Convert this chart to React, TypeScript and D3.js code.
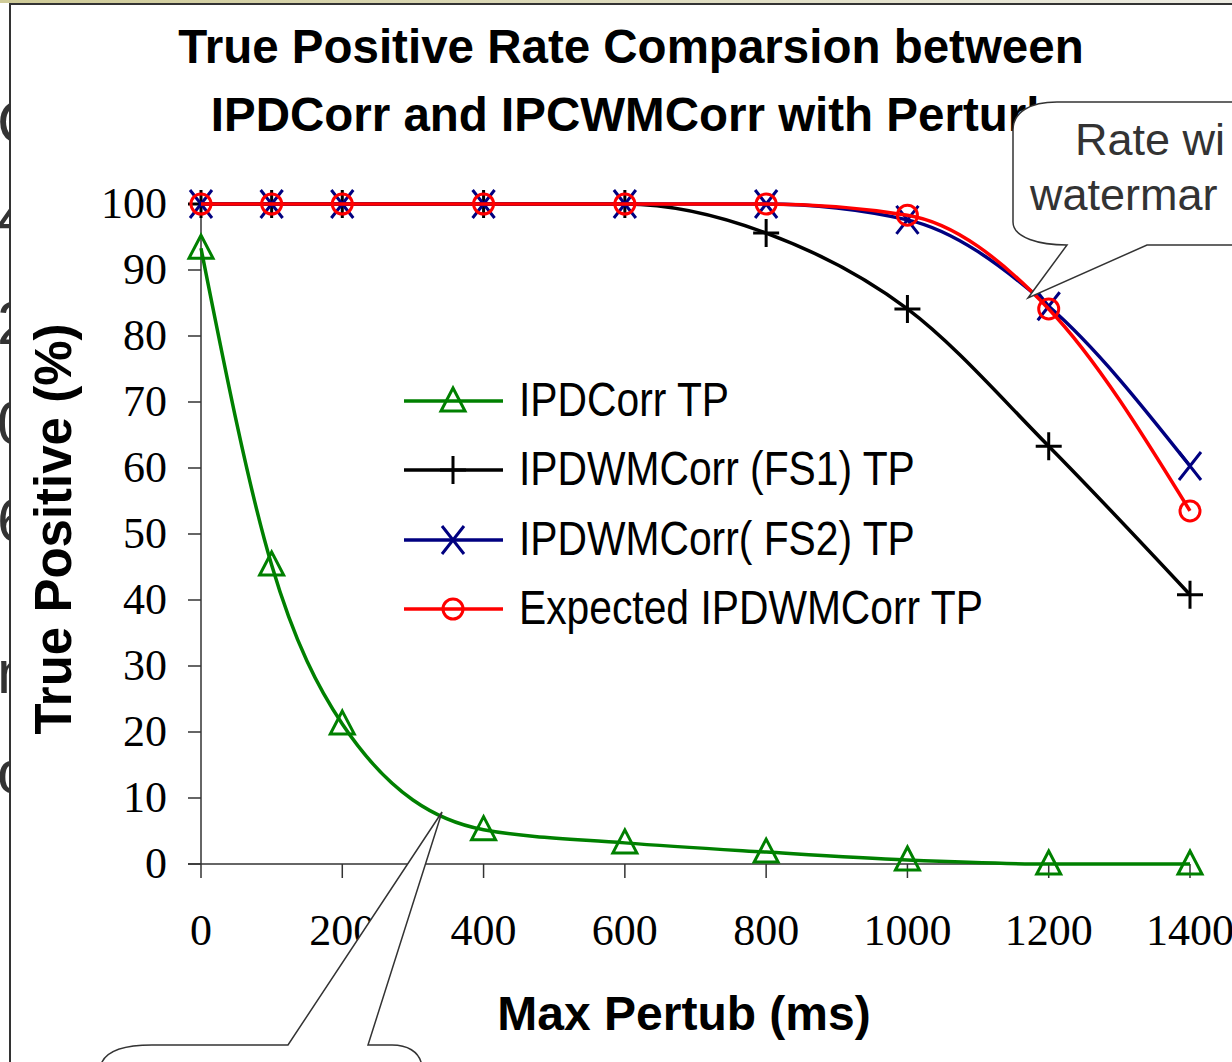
import React from "react";
import * as d3 from "d3";

const xValues = [0, 100, 200, 400, 600, 800, 1000, 1200, 1400];
const ipdCorrTP = [93.3, 45.3, 21.2, 5.2, 3.2, 1.8, 0.6, 0, 0];
const fs1TP = [100, 100, 100, 100, 100, 95.6, 84.1, 63.3, 40.8];
const fs2TP = [100, 100, 100, 100, 100, 100, 97.6, 84.5, 60.3];
const expectedTP = [100, 100, 100, 100, 100, 100, 98.3, 84.1, 53.5];

const xTicks = [0, 200, 400, 600, 800, 1000, 1200, 1400];
const yTicks = [0, 10, 20, 30, 40, 50, 60, 70, 80, 90, 100];

const seriesNames = ["IPDCorr TP", "IPDWMCorr (FS1) TP", "IPDWMCorr( FS2) TP", "Expected IPDWMCorr TP"];
const seriesColors = ["#008000", "#000000", "#000080", "#ff0000"];
const seriesMarkers = ["triangle", "plus", "cross", "circle"];
const seriesValues = [ipdCorrTP, fs1TP, fs2TP, expectedTP];

const titleLines = ["True Positive Rate Comparsion between", "IPDCorr and IPCWMCorr with Perturb"];
const bgGlyphs = [
  { ch: "C", y: 143 },
  { ch: "4", y: 238 },
  { ch: "2", y: 344 },
  { ch: "0", y: 444 },
  { ch: "6", y: 541 },
  { ch: "n", y: 693 },
  { ch: "o", y: 793 },
];

const W = 1232;
const H = 1062;

function Marker({ kind, color, x, y }: { kind: string; color: string; x: number; y: number }) {
  const sw = 3;
  if (kind === "triangle") {
    return <path d={`M${x},${y - 13}L${x + 12},${y + 10}L${x - 12},${y + 10}Z`} fill="none" stroke={color} strokeWidth={sw} strokeLinejoin="miter" />;
  }
  if (kind === "plus") {
    return <path d={`M${x - 13},${y}H${x + 13}M${x},${y - 14}V${y + 14}`} stroke={color} strokeWidth={sw} fill="none" />;
  }
  if (kind === "cross") {
    return <path d={`M${x - 11},${y - 14}L${x + 11},${y + 14}M${x + 11},${y - 14}L${x - 11},${y + 14}`} stroke={color} strokeWidth={sw} fill="none" />;
  }
  return <circle cx={x} cy={y} r={10} stroke={color} strokeWidth={sw} fill="none" />;
}

export default function App() {
  const x = d3.scaleLinear().domain([0, 1400]).range([201, 1190]);
  const y = d3.scaleLinear().domain([0, 100]).range([864, 204]);
  const line = d3
    .line<[number, number]>()
    .x((d) => x(d[0]))
    .y((d) => y(d[1]))
    .curve(d3.curveMonotoneX);

  const legendY = [401, 470, 540, 609];
  const sans = "'Liberation Sans', Arial, sans-serif";
  const serif = "'Liberation Serif', 'Times New Roman', serif";

  return (
    <svg width={W} height={H} style={{ position: "absolute", left: 0, top: 0, display: "block" }}>
      <defs>
        <linearGradient id="topstrip" x1="0" x2="1" y1="0" y2="0">
          <stop offset="0" stopColor="#cfcb98" />
          <stop offset="1" stopColor="#ecebe2" />
        </linearGradient>
      </defs>
      <rect x={0} y={0} width={W} height={H} fill="#ffffff" />
      {bgGlyphs.map((g, i) => (
        <text key={i} x={-3} y={g.y} fontFamily={sans} fontSize={62} fill="#333333">
          {g.ch}
        </text>
      ))}
      <rect x={10} y={4} width={W} height={H} fill="#ffffff" stroke="#333333" strokeWidth={2} />
      <rect x={0} y={0} width={W} height={3} fill="url(#topstrip)" />

      {/* Title */}
      <g fontFamily={sans} fontWeight="bold" fontSize={47.5} fill="#000" textAnchor="middle">
        <text x={631} y={63}>{titleLines[0]}</text>
        <text x={633} y={131}>{titleLines[1]}</text>
      </g>

      {/* Axes */}
      <g stroke="#333" strokeWidth={1.5} fill="none">
        <line x1={x(0)} x2={x(0)} y1={y(100)} y2={y(0)} />
        <line x1={188} x2={x(1400)} y1={y(0)} y2={y(0)} />
        {yTicks.map((t) => (
          <line key={"yt" + t} x1={188} x2={x(0)} y1={y(t)} y2={y(t)} />
        ))}
        {xTicks.map((t) => (
          <line key={"xt" + t} x1={x(t)} x2={x(t)} y1={y(0)} y2={y(0) + 14} />
        ))}
      </g>
      <g fontFamily={serif} fontSize={44} fill="#000">
        {yTicks.map((t) => (
          <text key={"yl" + t} x={167} y={y(t)} dy="0.32em" textAnchor="end">
            {t}
          </text>
        ))}
        {xTicks.map((t) => (
          <text key={"xl" + t} x={x(t)} y={945} textAnchor="middle">
            {t}
          </text>
        ))}
      </g>

      {/* Axis titles */}
      <text x={684} y={1030} fontFamily={sans} fontWeight="bold" fontSize={48} textAnchor="middle">
        Max Pertub (ms)
      </text>
      <text transform="translate(71,529) rotate(-90)" fontFamily={sans} fontWeight="bold" fontSize={51} textAnchor="middle">
        True Positive (%)
      </text>

      {/* Series */}
      {seriesValues.map((vals, si) => {
        const pts: [number, number][] = xValues.map((xv, i) => [xv, vals[i]]);
        return (
          <g key={"s" + si}>
            <path d={line(pts) || ""} fill="none" stroke={seriesColors[si]} strokeWidth={3.5} strokeLinejoin="round" />
            {pts.map((p, i) => (
              <Marker key={i} kind={seriesMarkers[si]} color={seriesColors[si]} x={x(p[0])} y={y(p[1])} />
            ))}
          </g>
        );
      })}

      {/* Legend */}
      {seriesNames.map((name, i) => (
        <g key={"lg" + i}>
          <line x1={404} x2={503} y1={legendY[i]} y2={legendY[i]} stroke={seriesColors[i]} strokeWidth={3.5} />
          <Marker kind={seriesMarkers[i]} color={seriesColors[i]} x={453} y={legendY[i]} />
          <text transform={`translate(519,${legendY[i] + 15}) scale(0.85,1)`} fontFamily={sans} fontSize={48} fill="#000">
            {name}
          </text>
        </g>
      ))}

      {/* Callout top-right */}
      <path
        d="M1240,102 L1057,102 C1030,102 1013,112 1013,130 L1013,222 C1013,238 1040,245 1067,245 L1028,298 L1147,245 L1240,245 Z"
        fill="#ffffff"
        stroke="#333333"
        strokeWidth={1.5}
      />
      <g fontFamily={sans} fontSize={45} fill="#333333">
        <text x={1075} y={155}>Rate wi</text>
        <text x={1030} y={210}>watermar</text>
      </g>

      {/* Callout bottom-left */}
      <path
        d="M100,1075 L102,1062 C108,1050 125,1045 152,1045 L288,1045 L442,812 L368,1045 L392,1045 C408,1045 418,1052 421,1062 L423,1075 Z"
        fill="#ffffff"
        stroke="#333333"
        strokeWidth={1.5}
      />
    </svg>
  );
}
